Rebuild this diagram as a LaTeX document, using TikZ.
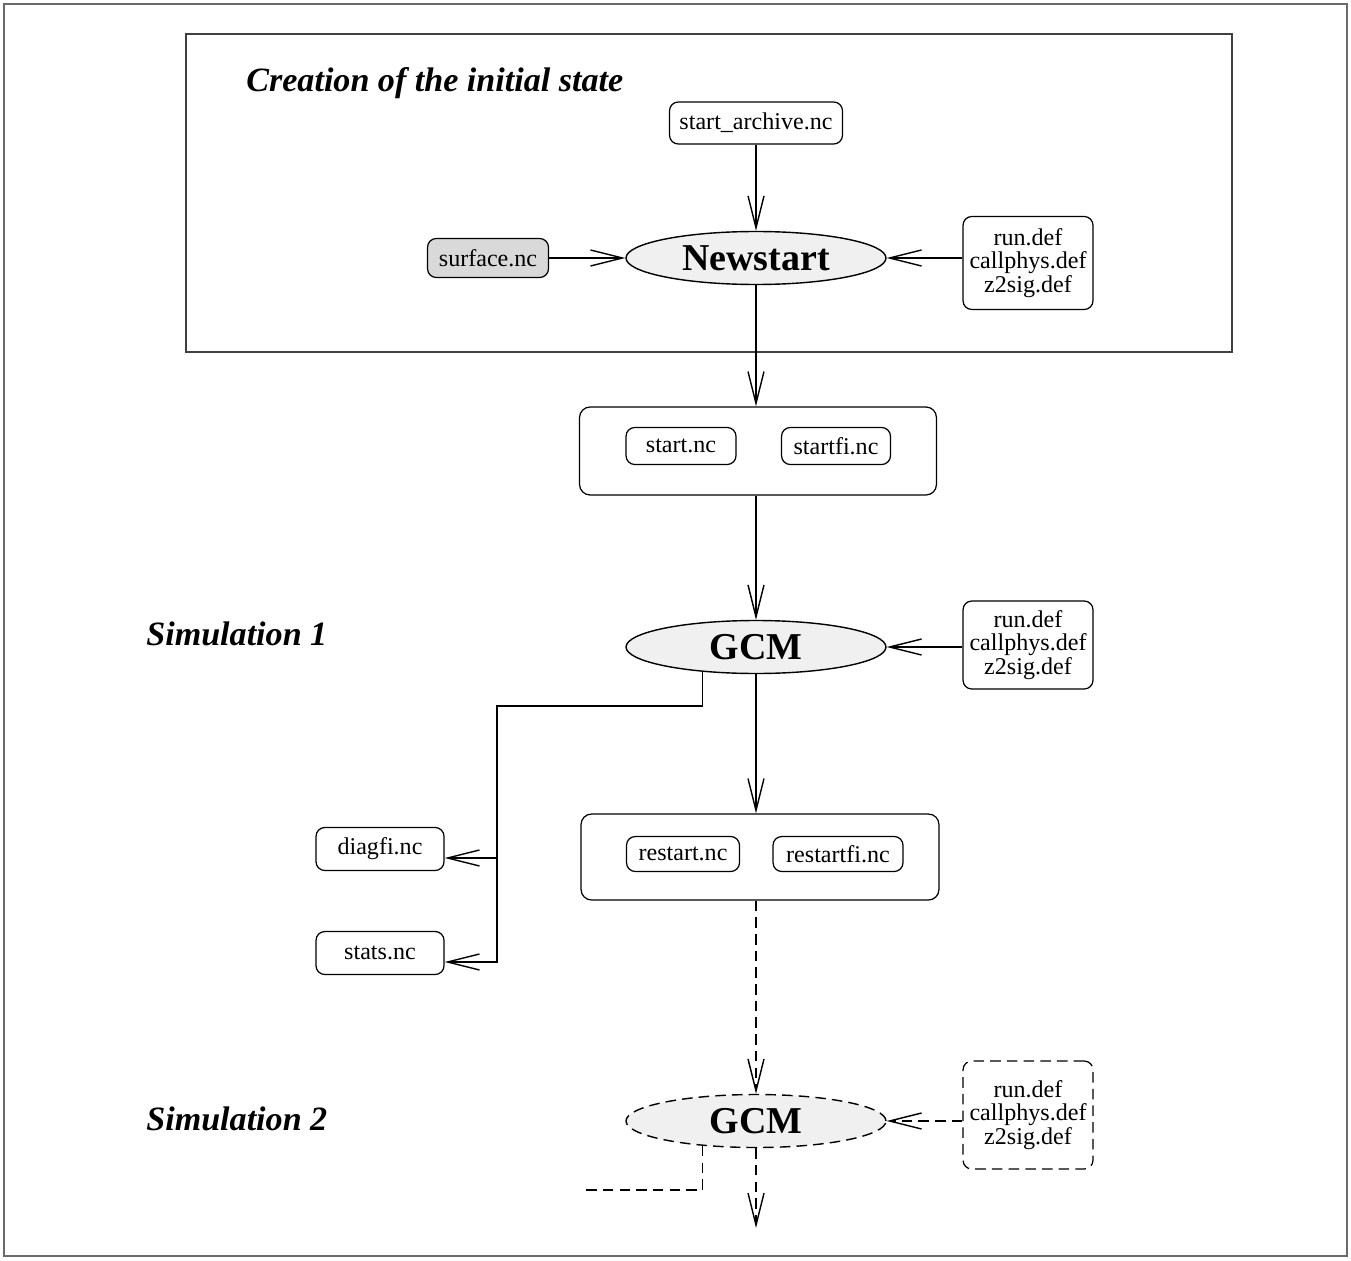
\documentclass[tikz,border=0pt]{standalone}
\usepackage{fontspec}
\setmainfont{Liberation Serif}
\usetikzlibrary{shapes,arrows.meta,positioning,calc}
\definecolor{frameGray}{HTML}{6A6A6A}
\definecolor{boxGray}{HTML}{404040}
\definecolor{progFill}{HTML}{F0F0F0}
\definecolor{surfFill}{HTML}{D9D9D9}

\begin{document}
\begin{tikzpicture}[x=0.02cm, y=-0.02cm,
          file/.style={rectangle, rounded corners=5pt, draw, line width=0.7pt, inner sep=0pt, font=\fontsize{13.7}{13.2}\selectfont, align=center},
          group/.style={rectangle, rounded corners=6pt, draw, line width=0.7pt, inner sep=0pt},
          prog/.style={ellipse, draw, fill=progFill, line width=0.8pt, minimum width=5.2cm, minimum height=1.06cm, inner sep=0pt, font=\fontsize{21.6}{24}\selectfont\bfseries},
          stage/.style={anchor=base west, inner sep=0pt, font=\fontsize{19.4}{22}\selectfont\bfseries\itshape},
          flow/.style={-{Straight Barb[length=0.64cm, width=0.32cm]}, line width=0.8pt},
          later/.style={dash pattern=on 6pt off 3.5pt}
        ]
          \useasboundingbox (0,0) rectangle (1351,1260);
          \draw[frameGray, line width=1.1pt] (4,4) rectangle (1347,1256);
          \draw[boxGray, line width=0.8pt] (186,34) rectangle (1232,352);

          % initial state
          \node[stage] (title) at (246,92) {Creation of the initial state};
          \node[file, minimum width=3.46cm, minimum height=0.84cm] (sarch) at (756,123) {start\_archive.nc};
          \node[prog] (newstart) at (756,258) {Newstart};
          \node[file, fill=surfFill, minimum width=2.42cm, minimum height=0.78cm] (surf) at (488,258) {surface.nc};
          \node[file, minimum width=2.6cm, minimum height=1.86cm] (def1) at (1028,263) {run.def\\callphys.def\\z2sig.def};
          \draw[flow] (sarch) -- (newstart);
          \draw[flow] (surf) -- (newstart);
          \draw[flow] (def1.west |- newstart) -- (newstart);

          \node[group, minimum width=7.14cm, minimum height=1.76cm] (startgrp) at (758,451) {};
          \node[file, minimum width=2.2cm, minimum height=0.74cm] (startnc) at (681,446) {start.nc};
          \node[file, minimum width=2.18cm, minimum height=0.74cm] (startfi) at (836,446) {startfi.nc};
          \draw[flow] (newstart) -- (newstart |- startgrp.north);

          % simulation 1
          \node[stage] (sim1) at (146,645) {Simulation 1};
          \node[prog] (gcm1) at (756,647) {GCM};
          \node[file, minimum width=2.6cm, minimum height=1.76cm] (def2) at (1028,645) {run.def\\callphys.def\\z2sig.def};
          \draw[flow] (startgrp.south -| gcm1) -- (gcm1);
          \draw[flow] (def2.west |- gcm1) -- (gcm1);

          \node[group, minimum width=7.16cm, minimum height=1.72cm] (restgrp) at (760,857) {};
          \node[file, minimum width=2.26cm, minimum height=0.7cm] (restnc) at (683,854) {restart.nc};
          \node[file, minimum width=2.6cm, minimum height=0.7cm] (restfi) at (838,854) {restartfi.nc};
          \draw[flow] (gcm1) -- (gcm1 |- restgrp.north);

          \node[file, minimum width=2.56cm, minimum height=0.86cm] (diagfi) at (380,849) {diagfi.nc};
          \node[file, minimum width=2.56cm, minimum height=0.86cm] (stats) at (380,953) {stats.nc};
          \coordinate (trunk) at (497,706);
          \coordinate (tap1) at (497,858);
          \coordinate (tap2) at (497,962);
          \draw[flow] (gcm1.205.6) |- (trunk) -- (tap2) -- (tap2 -| stats.east);
          \draw[flow] (tap1) -- (tap1 -| diagfi.east);

          % simulation 2
          \node[stage] (sim2) at (146,1130) {Simulation 2};
          \node[prog, later] (gcm2) at (756,1121) {GCM};
          \node[file, later, minimum width=2.6cm, minimum height=2.16cm] (def3) at (1028,1115) {run.def\\callphys.def\\z2sig.def};
          \draw[flow, later] (restgrp.south -| gcm2) -- (gcm2);
          \draw[flow, later] (def3.west |- gcm2) -- (gcm2);
          \coordinate (cut) at (585,1190);
          \coordinate (next) at (756,1228);
          \draw[later, line width=0.8pt] (gcm2.205.6) |- (cut);
          \draw[flow, later] (gcm2) -- (next);
        \end{tikzpicture}
\end{document}
